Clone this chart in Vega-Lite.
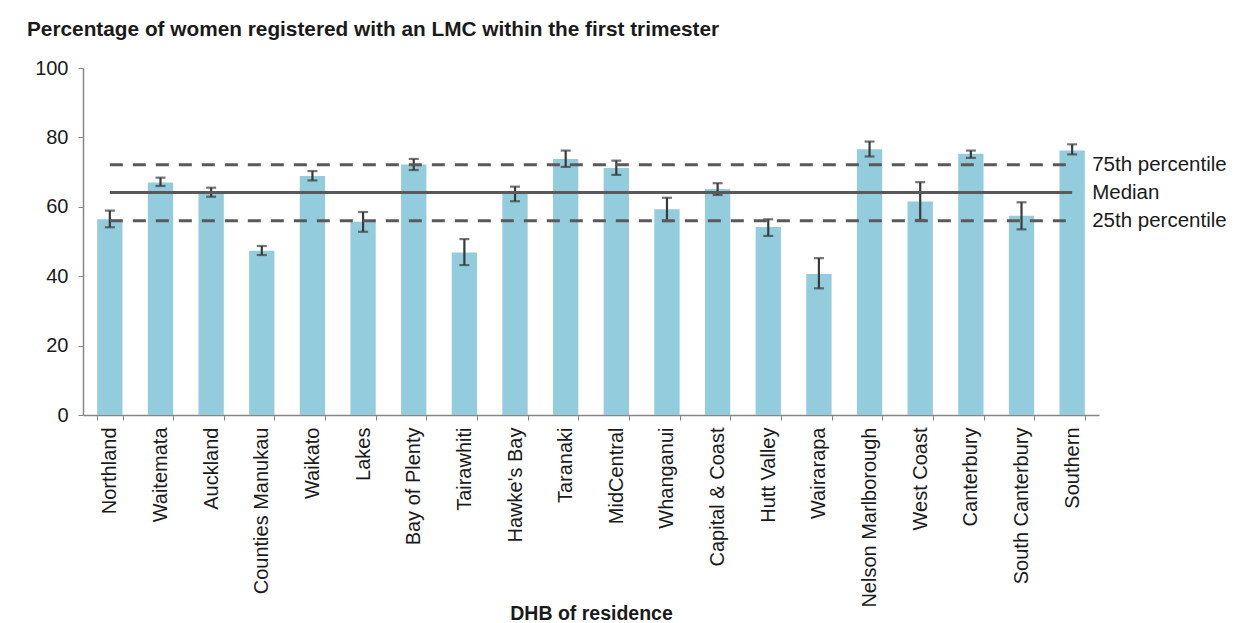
{
  "$schema": "https://vega.github.io/schema/vega-lite/v6.json",
  "width": 1016,
  "height": 347,
  "autosize": "none",
  "padding": {"left": 83, "top": 68, "right": 146, "bottom": 208},
  "background": "white",
  "config": {"view": {"stroke": null}, "font": "Liberation Sans"},
  "title": {
    "text": "Percentage of women registered with an LMC within the first trimester",
    "anchor": "start",
    "frame": "group",
    "dx": -56,
    "offset": 17,
    "fontSize": 20.8,
    "fontWeight": "bold",
    "color": "#1a1a1a",
    "font": "Liberation Sans"
  },
  "datasets": {
    "dhb": [
      {"DHB": "Northland", "value": 56.4, "lo": 54.1, "hi": 58.9},
      {"DHB": "Waitemata", "value": 67.0, "lo": 66.0, "hi": 68.4},
      {"DHB": "Auckland", "value": 63.9, "lo": 62.9, "hi": 65.5},
      {"DHB": "Counties Manukau", "value": 47.3, "lo": 46.1, "hi": 48.7},
      {"DHB": "Waikato", "value": 68.9, "lo": 67.6, "hi": 70.3},
      {"DHB": "Lakes", "value": 55.7, "lo": 52.8, "hi": 58.5},
      {"DHB": "Bay of Plenty", "value": 72.2, "lo": 70.6, "hi": 73.8},
      {"DHB": "Tairawhiti", "value": 46.8, "lo": 43.2, "hi": 50.7},
      {"DHB": "Hawke's Bay", "value": 63.9, "lo": 61.6, "hi": 65.8},
      {"DHB": "Taranaki", "value": 73.8, "lo": 71.5, "hi": 76.2},
      {"DHB": "MidCentral", "value": 71.2, "lo": 69.2, "hi": 73.3},
      {"DHB": "Whanganui", "value": 59.3, "lo": 55.9, "hi": 62.6},
      {"DHB": "Capital & Coast", "value": 65.1, "lo": 63.4, "hi": 66.8},
      {"DHB": "Hutt Valley", "value": 54.2, "lo": 51.6, "hi": 56.4},
      {"DHB": "Wairarapa", "value": 40.6, "lo": 36.5, "hi": 45.2},
      {"DHB": "Nelson Marlborough", "value": 76.6, "lo": 74.5, "hi": 78.8},
      {"DHB": "West Coast", "value": 61.5, "lo": 56.2, "hi": 67.1},
      {"DHB": "Canterbury", "value": 75.3, "lo": 74.1, "hi": 76.2},
      {"DHB": "South Canterbury", "value": 57.4, "lo": 53.5, "hi": 61.3},
      {"DHB": "Southern", "value": 76.2, "lo": 75.1, "hi": 78.0}
    ],
    "refs": [
      {"label": "75th percentile", "value": 72.1, "start": "Northland", "end": "Southern", "style": "dashed"},
      {"label": "Median", "value": 64.1, "start": "Northland", "end": "Southern", "style": "solid"},
      {"label": "25th percentile", "value": 56.0, "start": "Northland", "end": "Southern", "style": "dashed"}
    ]
  },
  "layer": [
    {
      "data": {"name": "dhb"},
      "mark": {"type": "bar", "color": "#93CDDD"},
      "encoding": {
        "x": {
          "field": "DHB",
          "type": "nominal",
          "scale": {
            "domain": ["Northland", "Waitemata", "Auckland", "Counties Manukau", "Waikato", "Lakes", "Bay of Plenty", "Tairawhiti", "Hawke's Bay", "Taranaki", "MidCentral", "Whanganui", "Capital & Coast", "Hutt Valley", "Wairarapa", "Nelson Marlborough", "West Coast", "Canterbury", "South Canterbury", "Southern"],
            "paddingInner": 0.5,
            "paddingOuter": 0.28
          },
          "axis": {
            "title": "DHB of residence",
            "titleFontSize": 19.5,
            "titleFontWeight": "bold",
            "titleColor": "#1a1a1a",
            "titleBaseline": "alphabetic",
            "titleY": 204,
            "labelAngle": -90,
            "labelFontSize": 20,
            "labelColor": "#1a1a1a",
            "labelPadding": 7,
            "labelAlign": "right",
            "labelBaseline": "middle",
            "labelLimit": 400,
            "tickBand": "extent",
            "tickSize": 5,
            "tickColor": "#868686",
            "domainColor": "#868686",
            "domainWidth": 1.5
          }
        },
        "y": {
          "field": "value",
          "type": "quantitative",
          "scale": {"domain": [0, 100], "nice": false},
          "axis": {
            "title": null,
            "values": [0, 20, 40, 60, 80, 100],
            "grid": false,
            "labelFontSize": 20,
            "labelColor": "#1a1a1a",
            "labelPadding": 10,
            "tickSize": 5,
            "tickColor": "#868686",
            "domainColor": "#868686",
            "domainWidth": 1.5
          }
        }
      }
    },
    {
      "data": {"name": "dhb"},
      "mark": {"type": "rule", "color": "#3a3a3a", "strokeWidth": 2.2},
      "encoding": {
        "x": {"field": "DHB", "type": "nominal"},
        "y": {"field": "lo", "type": "quantitative"},
        "y2": {"field": "hi"}
      }
    },
    {
      "data": {"name": "dhb"},
      "mark": {"type": "tick", "color": "#3a3a3a", "thickness": 2.2, "size": 10},
      "encoding": {
        "x": {"field": "DHB", "type": "nominal"},
        "y": {"field": "lo", "type": "quantitative"}
      }
    },
    {
      "data": {"name": "dhb"},
      "mark": {"type": "tick", "color": "#3a3a3a", "thickness": 2.2, "size": 10},
      "encoding": {
        "x": {"field": "DHB", "type": "nominal"},
        "y": {"field": "hi", "type": "quantitative"}
      }
    },
    {
      "data": {"name": "refs"},
      "mark": {"type": "rule", "color": "#595959", "strokeWidth": 3},
      "encoding": {
        "x": {"field": "start", "type": "nominal"},
        "x2": {"field": "end"},
        "y": {"field": "value", "type": "quantitative"},
        "strokeDash": {
          "field": "style",
          "type": "nominal",
          "scale": {"domain": ["dashed", "solid"], "range": [[13, 10], [1, 0]]},
          "legend": null
        }
      }
    },
    {
      "data": {"name": "refs"},
      "mark": {"type": "text", "align": "left", "baseline": "middle", "dx": 20, "fontSize": 20.5, "color": "#1a1a1a", "font": "Liberation Sans"},
      "encoding": {
        "x": {"field": "end", "type": "nominal"},
        "y": {"field": "value", "type": "quantitative"},
        "text": {"field": "label"}
      }
    }
  ]
}
